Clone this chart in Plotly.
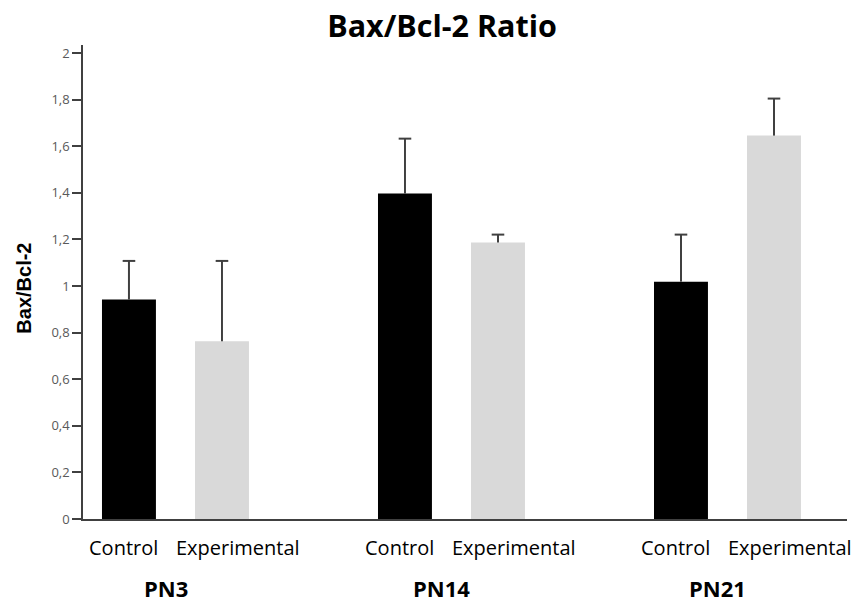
import plotly.graph_objects as go

groups = ["PN3", "PN14", "PN21"]
series = ["Control", "Experimental"]
control = [0.942, 1.397, 1.019]
control_err = [0.166, 0.236, 0.202]
experimental = [0.763, 1.187, 1.646]
experimental_err = [0.345, 0.034, 0.159]
yticks = [0, 0.2, 0.4, 0.6, 0.8, 1.0, 1.2, 1.4, 1.6, 1.8, 2.0]
ytick_text = ["0", "0,2", "0,4", "0,6", "0,8", "1", "1,2", "1,4", "1,6", "1,8", "2"]

label_font = "Open Sans, Noto Sans, sans-serif"
BARGAP = 0.326
slot = (1 - BARGAP) / len(series)

fig = go.Figure()
for si, (name, vals, errs, color) in enumerate([
    ("Control", control, control_err, "#000000"),
    ("Experimental", experimental, experimental_err, "#d9d9d9"),
]):
    fig.add_trace(go.Bar(
        x=list(range(len(groups))), y=vals, name=name,
        marker=dict(color=color, line=dict(width=0)),
        error_y=dict(type="data", array=errs, arrayminus=[0] * len(errs),
                     symmetric=False, color="#404040", thickness=2, width=0),
    ))
    off = (si - (len(series) - 1) / 2) * slot
    fig.add_trace(go.Scatter(
        x=[gi + off for gi in range(len(groups))],
        y=[v + e for v, e in zip(vals, errs)],
        mode="markers", hoverinfo="skip",
        marker=dict(symbol="line-ew", size=9, line=dict(color="#404040", width=2)),
    ))

annotations = []
for gi, g in enumerate(groups):
    annotations.append(dict(x=gi - 0.036, y=0, xref="x", yref="y", yshift=-68.5,
                            text="<b>" + g + "</b>", showarrow=False,
                            font=dict(family=label_font, size=22, color="#000000")))
    for si, s in enumerate(series):
        off = -0.19 if si == 0 else 0.225
        annotations.append(dict(x=gi + off, y=0, xref="x", yref="y", yshift=-28.5, text=s,
                                showarrow=False,
                                font=dict(family=label_font, size=20, color="#000000")))

annotations.append(dict(x=-0.0772, y=0.486, xref="paper", yref="paper", text="<b>Bax/Bcl-2</b>",
                        textangle=-90, showarrow=False, xanchor="center", yanchor="middle",
                        font=dict(family="Liberation Sans, Arial, sans-serif", size=20, color="#000000")))

fig.update_layout(
    width=860, height=603,
    paper_bgcolor="white", plot_bgcolor="white",
    margin=dict(l=83, r=13, t=45, b=83.5),
    barmode="group", bargap=BARGAP, bargroupgap=0.42,
    showlegend=False,
    title=dict(text="<b>Bax/Bcl-2 Ratio</b>", x=0.47, xanchor="center", xref="paper",
               y=1 - 26 / 603, yanchor="middle",
               font=dict(family=label_font, size=30.5, color="#000000")),
    annotations=annotations,
    xaxis=dict(range=[-0.335, 2.433], showticklabels=False, ticks="", showgrid=False,
               zeroline=False, showline=True, linecolor="#404040", linewidth=1.5),
    yaxis=dict(range=[0, 2.035], tickvals=yticks, ticktext=ytick_text, ticks="outside",
               ticklen=9, tickcolor="#404040", tickwidth=1.5, showgrid=False, zeroline=False,
               showline=True, linecolor="#404040", linewidth=1.5,
               tickfont=dict(family=label_font, size=13, color="#595959")),
)

fig.write_html("out.html", post_script="document.body.style.margin='0';",
               config={"displayModeBar": False})
